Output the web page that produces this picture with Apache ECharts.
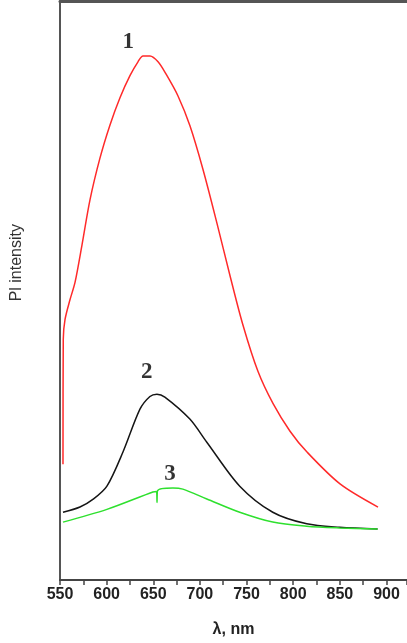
<!DOCTYPE html>
<html>
<head>
<meta charset="utf-8">
<script src="https://cdn.jsdelivr.net/npm/echarts@6/dist/echarts.min.js"></script>
<style>
  html, body { margin: 0; padding: 0; background: #fff; }
  #chart { width: 407px; height: 643px; }
</style>
</head>
<body>
<div id="chart"></div>
<script>
// wavelength (nm) / intensity (a.u.) pairs
const red = [
  [553.2, 20.0], [553.5, 41.6], [555.4, 45.0], [560.7, 48.4], [566.1, 51.4],
  [573.6, 57.9], [582.2, 65.7], [592.9, 72.9], [603.6, 78.6], [614.3, 83.3],
  [625.0, 87.1], [633.6, 89.5], [639.0, 90.5], [646.5, 90.5], [655.1, 89.5],
  [663.6, 87.4], [676.5, 83.6], [689.4, 78.4], [703.3, 70.9], [718.3, 61.6],
  [732.2, 52.6], [746.2, 44.0], [762.3, 36.0], [778.3, 30.5], [796.6, 25.7],
  [814.8, 22.1], [850.2, 16.6], [890.9, 12.6]
];
const black = [
  [553.2, 11.7], [571.4, 12.6], [586.0, 14.0], [600.3, 16.2], [617.5, 22.1],
  [635.7, 29.5], [646.4, 31.7], [653.9, 32.1], [662.4, 31.6], [689.2, 27.8],
  [707.4, 23.8], [742.7, 16.2], [778.1, 11.7], [814.5, 9.7], [849.8, 9.1],
  [890.5, 8.8]
];
const green = [
  [553.2, 10.0], [600.3, 12.2], [649.6, 15.2], [653.5, 15.3], [654.0, 13.4],
  [654.5, 15.4], [671.0, 15.9], [681.7, 15.7], [707.4, 14.0], [742.7, 11.7],
  [778.1, 10.0], [814.5, 9.3], [849.8, 9.0], [890.5, 8.8]
];
// curve numbers: [label, wavelength, intensity]
const curveTags = [
  ["1", 623.3, 92.9],
  ["2", 643.1, 35.9],
  ["3", 667.8, 18.3]
];
const seriesColors = ["#ff2a2a", "#151515", "#2ee02e"];

const chart = echarts.init(document.getElementById("chart"));

function curve(name, data, i) {
  return {
    name: name,
    type: "line",
    data: data,
    smooth: 0.3,
    showSymbol: false,
    lineStyle: { color: seriesColors[i], width: 1.5 },
    z: 2
  };
}

const option = {
  animation: false,
  grid: { left: 60, right: 0, top: 1, bottom: 62 },
  xAxis: [
    {
      type: "value",
      min: 550,
      max: 922,
      interval: 50,
      name: "λ, nm",
      nameLocation: "middle",
      nameGap: 42,
      nameTextStyle: { fontFamily: "Liberation Sans", fontWeight: "bold", fontSize: 16, color: "#222" },
      axisLine: { show: true, lineStyle: { color: "#444", width: 2 } },
      axisTick: { show: true, length: 5, lineStyle: { color: "#444", width: 1.5 } },
      minorTick: { show: true, splitNumber: 2, length: 5, lineStyle: { color: "#444", width: 1.5 } },
      splitLine: { show: false },
      axisLabel: {
        margin: 7,
        showMaxLabel: false,
        fontFamily: "Liberation Sans",
        fontWeight: "bold",
        fontSize: 16,
        color: "#222"
      }
    },
    {
      type: "value",
      position: "top",
      min: 550,
      max: 922,
      axisLine: { show: true, lineStyle: { color: "#555", width: 3 } },
      axisTick: { show: false },
      axisLabel: { show: false },
      splitLine: { show: false }
    }
  ],
  yAxis: {
    type: "value",
    min: 0,
    max: 100,
    axisLine: { show: true, lineStyle: { color: "#555", width: 2 } },
    axisTick: { show: false },
    axisLabel: { show: false },
    splitLine: { show: false }
  },
  graphic: [
    {
      type: "text",
      left: 9,
      top: 224,
      rotation: Math.PI / 2,
      style: {
        text: "Pl intensity",
        font: "16px 'Liberation Sans'",
        fill: "#333"
      }
    }
  ],
  series: [
    curve("1", red, 0),
    curve("2", black, 1),
    curve("3", green, 2),
    {
      name: "tags",
      type: "scatter",
      data: curveTags.map(t => ({ value: [t[1], t[2]], name: t[0] })),
      symbolSize: 1,
      itemStyle: { color: "rgba(0,0,0,0)" },
      silent: true,
      label: {
        show: true,
        position: "inside",
        formatter: p => p.name,
        fontFamily: "Liberation Serif",
        fontWeight: "bold",
        fontSize: 23,
        color: "#000",
        textBorderWidth: 0
      },
      z: 5
    }
  ]
};

chart.setOption(option);
</script>
</body>
</html>
